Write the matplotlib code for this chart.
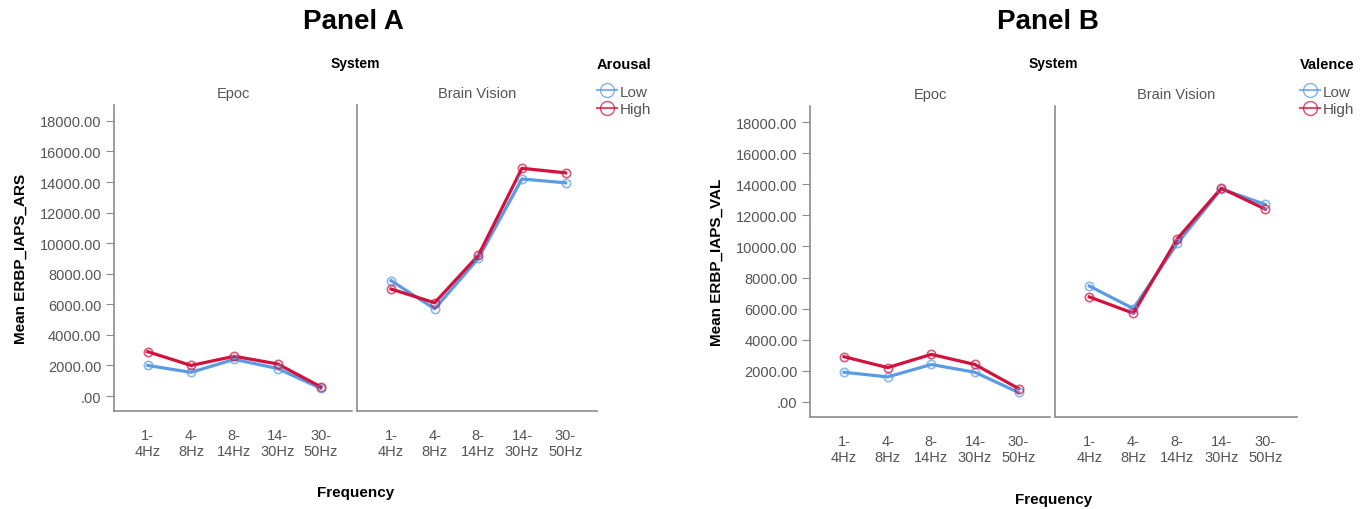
import numpy as np
import matplotlib
matplotlib.use("Agg")
import matplotlib.pyplot as plt
from matplotlib.lines import Line2D

plt.rcParams['font.family'] = ['Liberation Sans', 'DejaVu Sans']

freqs = ['1-\n4Hz', '4-\n8Hz', '8-\n14Hz', '14-\n30Hz', '30-\n50Hz']
systems = ['Epoc', 'Brain Vision']
levels = ['Low', 'High']

# Panel A (arousal)
ars_epoc_low = [2000, 1550, 2400, 1800, 500]
ars_epoc_high = [2900, 2000, 2600, 2100, 600]
ars_bv_low = [7550, 5700, 9000, 14200, 13950]
ars_bv_high = [7000, 6100, 9200, 14900, 14600]

# Panel B (valence)
val_epoc_low = [1900, 1600, 2400, 1900, 600]
val_epoc_high = [2900, 2200, 3050, 2400, 850]
val_bv_low = [7450, 6000, 10200, 13700, 12700]
val_bv_high = [6750, 5700, 10500, 13750, 12400]

yticks = np.arange(0, 18001, 2000)
ytick_labels = ['.00'] + ['%d.00' % v for v in yticks[1:]]

c_low = '#5b9be3'
c_high = '#d2123c'
grey = '#555555'
spine = '#8c8c8c'

W, H = 1370, 510
fig = plt.figure(figsize=(W / 100, H / 100), dpi=100)


def px_axes(x0, x1, ytop, ybot):
    return fig.add_axes([x0 / W, 1 - ybot / H, (x1 - x0) / W, (ybot - ytop) / H])


def panel(title, xs, ytop, ybot, data, ylabel, legend_title, legx, title_x, freq_y):
    x = np.arange(len(freqs))
    for i, (ax_x0, ax_x1) in enumerate(xs):
        ax = px_axes(ax_x0, ax_x1, ytop, ybot)
        low, high = data[i]
        for vals, c in [(low, c_low), (high, c_high)]:
            ax.plot(x, vals, color=c, lw=2.3, zorder=3)
            ax.plot(x, vals, ls='none', marker='o', ms=6, mfc='none',
                    mec=c, mew=1.2, alpha=0.7, zorder=4)
        ax.set_xlim(-0.78, 4.72)
        ax.set_ylim(-980, 19040)
        ax.set_xticks(x)
        ax.set_xticklabels(freqs, fontsize=10.5, color=grey, linespacing=1.25)
        ax.tick_params(axis='x', length=0, pad=12)
        ax.set_yticks(yticks)
        if i == 0:
            ax.set_yticklabels(ytick_labels, fontsize=10.5, color=grey)
            ax.tick_params(axis='y', length=6, color=spine, pad=3)
            ax.set_ylabel(ylabel, fontsize=11, fontweight='bold', labelpad=9)
        else:
            ax.tick_params(axis='y', length=0, labelleft=False)
        for s in ['top', 'right']:
            ax.spines[s].set_visible(False)
        for s in ['left', 'bottom']:
            ax.spines[s].set_color(spine)
            ax.spines[s].set_linewidth(1.2)
        ax.set_title(systems[i], fontsize=10.5, color=grey, pad=6)
    mid = (xs[0][0] + xs[1][1]) / 2
    fig.text(title_x / W, 1 - 22 / H, title, fontsize=20, fontweight='bold',
             ha='center', va='center')
    fig.text(mid / W, 1 - 64 / H, 'System', fontsize=10, fontweight='bold',
             ha='center', va='center')
    fig.text(mid / W, 1 - freq_y / H, 'Frequency', fontsize=11,
             fontweight='bold', ha='center', va='center')
    handles = [Line2D([], [], color=c, lw=1.5, marker='o', ms=10, mfc='none',
                      alpha=0.75) for c in (c_low, c_high)]
    leg = fig.legend(handles, levels, title=legend_title, loc='upper left',
                     bbox_to_anchor=(legx / W, 1 - 50 / H), frameon=False,
                     fontsize=11, title_fontproperties={'weight': 'bold', 'size': 10.5},
                     handlelength=1.3, handletextpad=0.15, labelspacing=0.25,
                     borderpad=0, labelcolor=grey)
    leg._legend_box.sep = 10


panel('Panel A', [(114, 352), (357, 597)], 106, 412,
      [(ars_epoc_low, ars_epoc_high), (ars_bv_low, ars_bv_high)],
      'Mean ERBP_IAPS_ARS', 'Arousal', 589, 353, 493)
panel('Panel B', [(810, 1050), (1055, 1297)], 107, 418,
      [(val_epoc_low, val_epoc_high), (val_bv_low, val_bv_high)],
      'Mean ERBP_IAPS_VAL', 'Valence', 1292, 1048, 500)

fig.savefig('out.png', dpi=100)
